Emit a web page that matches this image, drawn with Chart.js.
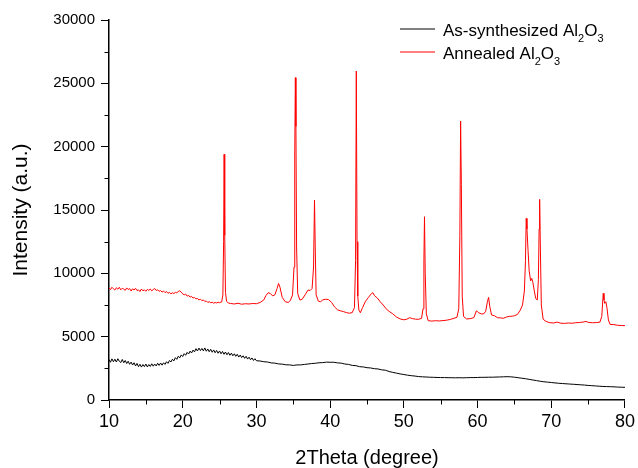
<!DOCTYPE html>
<html>
<head>
<meta charset="utf-8">
<script src="https://cdn.jsdelivr.net/npm/chart.js@4.4.1/dist/chart.umd.min.js"></script>
<style>
html,body{margin:0;padding:0;background:#fff;}
#wrap{width:638px;height:468px;position:relative;}
</style>
</head>
<body>
<div id="wrap"><canvas id="c" width="638" height="468"></canvas></div>
<script>
// ---- data ----
const seriesLabels = ['As-synthesized Al_2O_3', 'Annealed Al_2O_3'];
const seriesColors = ['#000000', '#ff0000'];

const xTickStep = 10, yTickStep = 5000;
const xMinorTicks = [15, 25, 35, 45, 55, 65, 75];
const yMinorTicks = [2500, 7500, 12500, 17500, 22500, 27500];

const asSynTheta = [
10.0,10.2,10.4,10.6,10.8,11.0,11.2,11.4,11.6,11.8,12.0,12.2,12.4,12.6,12.8,13.0,13.2,13.4,13.6,13.8,
14.0,14.2,14.4,14.6,14.8,15.0,15.2,15.4,15.6,15.8,16.0,16.2,16.4,16.6,16.8,17.0,17.2,17.4,17.6,17.8,
18.0,18.2,18.4,18.6,18.8,19.0,19.2,19.4,19.6,19.8,20.0,20.2,20.4,20.6,20.8,21.0,21.2,21.4,21.6,21.8,
22.0,22.2,22.4,22.6,22.8,23.0,23.2,23.4,23.6,23.8,24.0,24.2,24.4,24.6,24.8,25.0,25.2,25.4,25.6,25.8,
26.0,26.2,26.4,26.6,26.8,27.0,27.2,27.4,27.6,27.8,28.0,28.2,28.4,28.6,28.8,29.0,29.2,29.4,29.6,29.8,30.0,
30.5,31,31.5,32,32.5,33,33.5,34,34.5,35,35.5,36,36.5,37,37.5,38,38.5,39,39.5,40,
40.5,41,41.5,42,42.5,43,43.5,44,44.5,45,45.5,46,46.5,47,47.5,48,48.5,49,49.5,50,
50.5,51,51.5,52,52.5,53,53.5,54,54.5,55,55.5,56,56.5,57,57.5,58,58.5,59,59.5,60,
60.5,61,61.5,62,62.5,63,63.5,64,64.5,65,65.5,66,66.5,67,67.5,68,68.5,69,69.5,70,
70.5,71,71.5,72,72.5,73,73.5,74,74.5,75,75.5,76,76.5,77,77.5,78,78.5,79,79.5,80
];
const asSynIntensity = [
3200,2980,3250,3020,3220,3000,3260,3060,2960,3200,2940,3120,2880,3060,2820,2990,2760,2940,2690,2890,
2630,2820,2600,2800,2630,2840,2610,2800,2650,2860,2670,2840,2690,2900,2730,2920,2750,2940,2810,3020,
2890,3120,3000,3220,3090,3340,3210,3460,3330,3560,3430,3660,3530,3760,3630,3860,3710,3940,3800,4050,
3870,4100,3900,4070,3880,4110,3850,4030,3810,4000,3770,3950,3730,3910,3690,3870,3650,3830,3610,3790,
3570,3750,3530,3700,3490,3650,3450,3610,3390,3550,3350,3490,3290,3450,3230,3380,3180,3320,3120,3260,3100,
3080,3020,3000,2930,2910,2850,2830,2780,2770,2730,2770,2770,2810,2840,2880,2900,2940,2950,2990,2980,
2980,2930,2910,2840,2810,2730,2710,2630,2610,2550,2530,2470,2450,2380,2350,2250,2180,2120,2060,2010,
1960,1920,1890,1850,1830,1815,1800,1790,1780,1770,1770,1760,1760,1750,1760,1750,1760,1770,1770,1780,
1790,1790,1800,1800,1810,1820,1830,1840,1830,1800,1760,1720,1680,1630,1580,1530,1480,1440,1410,1380,
1350,1320,1300,1280,1260,1240,1220,1200,1180,1150,1130,1110,1090,1070,1060,1050,1040,1020,1010,1000
];

const annealTheta = [
10.0,10.2,10.4,10.6,10.8,11.0,11.2,11.4,11.6,11.8,12.0,12.2,12.4,12.6,12.8,13.0,13.2,13.4,13.6,13.8,
14.0,14.2,14.4,14.6,14.8,15.0,15.2,15.4,15.6,15.8,16.0,16.2,16.4,16.6,16.8,17.0,17.2,17.4,17.6,17.8,
18.0,18.2,18.4,18.6,18.8,19.0,19.2,19.4,19.6,19.8,20.0,20.2,20.4,20.6,20.8,21.0,21.2,21.4,21.6,21.8,
22.0,22.2,22.4,22.6,22.8,23.0,23.2,23.4,23.6,23.8,24.0,24.2,24.4,24.6,24.8,25.0,25.2,
25.3,25.45,25.55,25.62,25.7,25.8,25.95,26.2,
26.5,27,27.5,28,28.5,29,29.5,30,30.5,31,31.3,31.6,31.9,32.2,32.5,32.8,33.0,33.2,33.5,33.9,
34.3,34.6,34.9,35.1,35.2,35.28,35.36,35.45,35.6,35.9,36.2,36.6,37.0,37.3,37.55,37.75,37.88,37.98,38.1,38.4,
38.7,39.0,39.4,39.8,40.2,40.6,41.0,41.4,41.8,42.2,42.6,43.0,43.3,43.45,43.55,43.65,43.75,43.9,44.1,44.4,
44.8,45.2,45.6,45.8,46.0,46.4,46.8,47.2,47.6,48.0,48.5,49.0,49.5,50.0,50.4,50.8,51.2,51.6,52.0,52.4,
52.6,52.72,52.8,52.9,53.05,53.3,53.8,54.3,54.8,55.3,55.8,56.3,56.8,57.2,57.45,57.6,57.7,57.8,57.92,58.1,
58.5,59.0,59.5,59.85,60.1,60.5,60.8,61.1,61.35,61.5,61.65,61.9,62.3,62.7,63.1,63.5,63.9,64.3,64.7,65.0,
65.4,65.8,66.1,66.35,66.5,66.6,66.7,66.85,67.0,67.2,67.35,67.5,67.7,67.9,68.1,68.25,68.35,68.42,68.52,68.65,
68.9,69.3,69.8,70.3,70.8,71.3,71.8,72.3,72.8,73.3,73.8,74.3,74.7,75.1,75.6,76.1,76.6,76.85,77.0,77.05,
77.15,77.25,77.4,77.55,77.75,77.97,78.5,79.0,79.5,80.0
];
const annealIntensity = [
8850,8720,8900,8780,8680,8860,8750,8900,8700,8820,8760,8650,8850,8720,8800,8600,8780,8680,8820,8640,
8700,8560,8760,8620,8700,8580,8740,8650,8760,8620,8720,8800,8650,8700,8580,8640,8520,8600,8480,8560,
8420,8500,8380,8460,8400,8500,8450,8580,8620,8520,8380,8300,8360,8200,8260,8120,8180,8050,8100,7980,
8020,7900,7960,7840,7900,7780,7820,7700,7760,7680,7720,7640,7700,7660,7720,7680,7740,
7800,8300,12500,19400,13000,8500,7800,7650,
7620,7580,7640,7560,7600,7580,7620,7600,7700,7900,8250,8470,8400,8220,8300,8800,9200,8900,8100,7760,
7700,7850,8300,10500,19500,25450,21600,12000,8400,7890,7950,8300,8680,8650,8800,10500,15790,12000,8300,7800,
7760,7900,7960,7920,7700,7350,7120,7040,6980,6900,6850,6900,7300,11000,25970,12500,8200,7100,6890,7300,
7800,8100,8400,8470,8250,8050,7750,7500,7200,7000,6800,6550,6400,6330,6380,6500,6420,6380,6370,6450,
7200,11000,14470,10000,6800,6260,6230,6260,6240,6270,6300,6360,6450,6530,7200,13000,22030,17000,8200,6600,
6400,6420,6500,7050,6900,6800,6790,7000,7800,8100,7400,6710,6650,6500,6480,6450,6550,6600,6620,6650,
6750,7100,7500,8600,11000,14340,13500,11800,10200,9400,9600,9300,8600,8000,7900,9500,13500,15840,12000,7500,
6370,6200,6100,6080,6150,6060,6050,6080,6060,6100,6120,6150,6200,6120,6100,6110,6150,6600,8000,8420,
7900,7630,7760,7300,6320,5970,5950,5900,5880,5870
];

// ---- chart ----
const FONT = "'Liberation Sans', Arial, sans-serif";
const toPoints = (xs, ys) => xs.map((x, i) => ({x: x, y: ys[i]}));

const minorTicksPlugin = {
  id: 'minorTicks',
  afterDraw(chart) {
    const {ctx, chartArea} = chart;
    const xs = chart.scales.x, ys = chart.scales.y;
    ctx.save();
    ctx.strokeStyle = '#000';
    ctx.lineWidth = 1;
    xMinorTicks.forEach(v => {
      const px = Math.round(xs.getPixelForValue(v)) + 0.5;
      ctx.beginPath(); ctx.moveTo(px, chartArea.bottom); ctx.lineTo(px, chartArea.bottom + 4.5); ctx.stroke();
    });
    yMinorTicks.forEach(v => {
      const py = Math.round(ys.getPixelForValue(v)) + 0.5;
      ctx.beginPath(); ctx.moveTo(chartArea.left, py); ctx.lineTo(chartArea.left - 4.5, py); ctx.stroke();
    });
    ctx.restore();
  }
};

function drawRichText(ctx, text, x, y, size, subSize, subDrop) {
  const parts = [];
  let i = 0, buf = '';
  while (i < text.length) {
    if (text[i] === '_' && i + 1 < text.length) {
      if (buf) { parts.push([buf, false]); buf = ''; }
      parts.push([text[i + 1], true]);
      i += 2;
    } else { buf += text[i]; i++; }
  }
  if (buf) parts.push([buf, false]);
  let cx = x;
  parts.forEach(([t, sub]) => {
    ctx.font = (sub ? subSize : size) + 'px ' + FONT;
    ctx.fillText(t, cx, sub ? y + subDrop : y);
    cx += ctx.measureText(t).width;
  });
}

const legendPlugin = {
  id: 'customLegend',
  afterDraw(chart) {
    const ctx = chart.ctx;
    ctx.save();
    ctx.textBaseline = 'alphabetic';
    ctx.textAlign = 'left';
    const rows = [29, 52];
    seriesLabels.forEach((lab, k) => {
      const ly = rows[k];
      ctx.strokeStyle = seriesColors[k];
      ctx.lineWidth = 1;
      ctx.beginPath(); ctx.moveTo(400, ly); ctx.lineTo(435, ly); ctx.stroke();
      ctx.fillStyle = '#000';
      drawRichText(ctx, lab, 443, ly + 6.5, 17, 11, 6);
    });
    ctx.restore();
  }
};

Chart.defaults.font.family = FONT;
Chart.defaults.color = '#000';

new Chart(document.getElementById('c'), {
  type: 'line',
  data: {
    datasets: [
      {label: seriesLabels[0], data: toPoints(asSynTheta, asSynIntensity), borderColor: seriesColors[0], borderWidth: 1, pointRadius: 0, tension: 0, fill: false},
      {label: seriesLabels[1], data: toPoints(annealTheta, annealIntensity), borderColor: seriesColors[1], borderWidth: 1, pointRadius: 0, tension: 0, fill: false}
    ]
  },
  options: {
    responsive: false,
    animation: false,
    devicePixelRatio: 1,
    layout: {padding: {top: 20, right: 13, left: 0, bottom: 0}},
    plugins: {legend: {display: false}, tooltip: {enabled: false}},
    scales: {
      x: {
        type: 'linear', min: 10, max: 80,
        ticks: {stepSize: xTickStep, font: {size: 18}, padding: 3, color: '#000', maxRotation: 0},
        grid: {display: true, drawOnChartArea: false, drawTicks: true, tickLength: 8, tickWidth: 1, tickColor: '#000'},
        border: {display: true, color: '#000', width: 1.5},
        title: {display: true, text: '2Theta (degree)', font: {size: 20, lineHeight: 1.0}, padding: {top: 0, bottom: 0}, color: '#000'},
        afterFit(s) { s.height = 68; }
      },
      y: {
        type: 'linear', min: 0, max: 30000,
        ticks: {stepSize: yTickStep, font: {size: 15}, padding: 6, color: '#000', callback: v => String(v)},
        grid: {display: true, drawOnChartArea: false, drawTicks: true, tickLength: 8, tickWidth: 1, tickColor: '#000'},
        border: {display: true, color: '#000', width: 1.5},
        title: {display: true, text: 'Intensity (a.u.)', font: {size: 21, lineHeight: 1.2}, padding: {top: 9, bottom: 0}, color: '#000'},
        afterFit(s) { s.width = 109; }
      }
    }
  },
  plugins: [minorTicksPlugin, legendPlugin]
});
</script>
</body>
</html>
